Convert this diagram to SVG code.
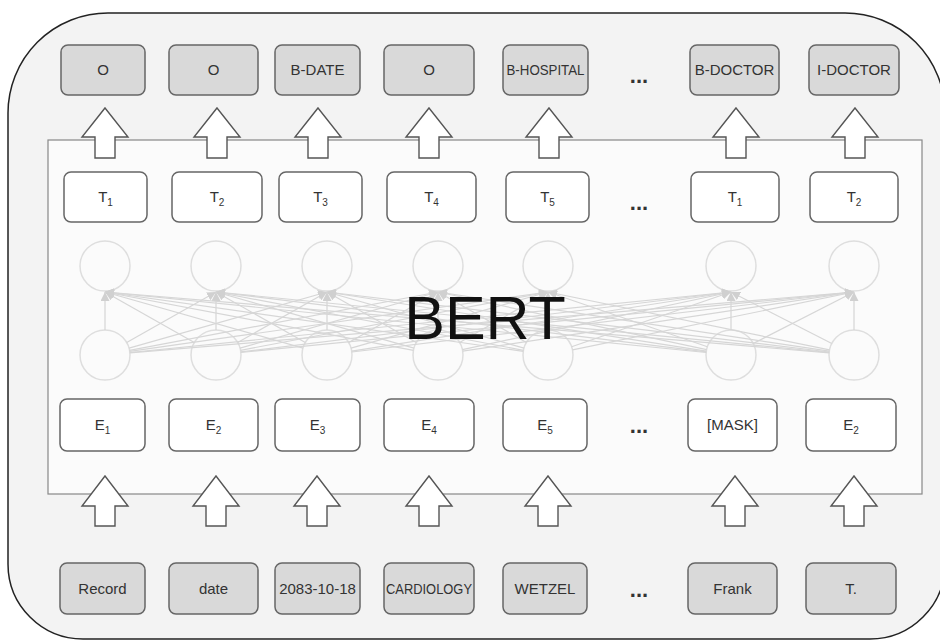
<svg xmlns="http://www.w3.org/2000/svg" width="940" height="642" viewBox="0 0 940 642">
<defs>
<style>
.lbl{font-family:"Liberation Sans",Arial,sans-serif;font-size:15px;fill:#333;text-anchor:middle}
.dots{font-family:"Liberation Sans",Arial,sans-serif;font-size:22px;font-weight:bold;fill:#333;text-anchor:middle}
.gbox{fill:#d9d9d9;stroke:#666;stroke-width:1.5}
.wbox{fill:#ffffff;stroke:#666;stroke-width:1.5}
.arr{fill:#ffffff;stroke:#555;stroke-width:1.4;stroke-linejoin:miter}
.neu{fill:none;stroke:#dedede;stroke-width:1.5}
.con line{stroke:#d6d6d6;stroke-width:1.2;marker-end:url(#ah)}
</style>
<marker id="ah" viewBox="0 0 10 10" refX="10" refY="5" markerWidth="9" markerHeight="9" markerUnits="userSpaceOnUse" orient="auto">
<path d="M0,0 L10,5 L0,10 Z" fill="#d0d0d0"/>
</marker>
</defs>
<rect x="0" y="0" width="940" height="642" fill="#ffffff"/>
<path id="outer" d="M108,13 H845 A100,100 0 0 1 945,113 V564 A75,75 0 0 1 870,639 H83 A75,75 0 0 1 8,564 V113 A100,100 0 0 1 108,13 Z" fill="#f3f3f3" stroke="#222" stroke-width="1.5"/>
<rect id="bert" x="48" y="140" width="874" height="354" fill="#fbfbfb" stroke="#888" stroke-width="1.2"/>

<g id="neurons">
<circle class="neu" cx="105" cy="266" r="25"/><circle class="neu" cx="216" cy="266" r="25"/><circle class="neu" cx="327" cy="266" r="25"/><circle class="neu" cx="438" cy="266" r="25"/><circle class="neu" cx="548" cy="266" r="25"/><circle class="neu" cx="731" cy="266" r="25"/><circle class="neu" cx="854" cy="266" r="25"/>
<circle class="neu" cx="105" cy="355" r="25"/><circle class="neu" cx="216" cy="355" r="25"/><circle class="neu" cx="327" cy="355" r="25"/><circle class="neu" cx="438" cy="355" r="25"/><circle class="neu" cx="548" cy="355" r="25"/><circle class="neu" cx="731" cy="355" r="25"/><circle class="neu" cx="854" cy="355" r="25"/>
</g>

<g id="connectors" class="con">
<line x1="105" y1="330" x2="105" y2="292"/>
<line x1="126.7" y1="342.5" x2="216" y2="292"/>
<line x1="129" y1="348.1" x2="327" y2="292"/>
<line x1="129.5" y1="350.3" x2="438" y2="292"/>
<line x1="129.7" y1="351.4" x2="548" y2="292"/>
<line x1="129.9" y1="352.5" x2="731" y2="292"/>
<line x1="129.9" y1="352.9" x2="854" y2="292"/>
<line x1="194.3" y1="342.5" x2="105" y2="292"/>
<line x1="216" y1="330" x2="216" y2="292"/>
<line x1="237.7" y1="342.5" x2="327" y2="292"/>
<line x1="240" y1="348.1" x2="438" y2="292"/>
<line x1="240.5" y1="350.3" x2="548" y2="292"/>
<line x1="240.8" y1="351.9" x2="731" y2="292"/>
<line x1="240.9" y1="352.5" x2="854" y2="292"/>
<line x1="303" y1="348.1" x2="105" y2="292"/>
<line x1="305.3" y1="342.5" x2="216" y2="292"/>
<line x1="327" y1="330" x2="327" y2="292"/>
<line x1="348.7" y1="342.5" x2="438" y2="292"/>
<line x1="351" y1="348.1" x2="548" y2="292"/>
<line x1="351.7" y1="351.1" x2="731" y2="292"/>
<line x1="351.8" y1="352" x2="854" y2="292"/>
<line x1="413.5" y1="350.3" x2="105" y2="292"/>
<line x1="414" y1="348.1" x2="216" y2="292"/>
<line x1="416.3" y1="342.5" x2="327" y2="292"/>
<line x1="438" y1="330" x2="438" y2="292"/>
<line x1="459.6" y1="342.4" x2="548" y2="292"/>
<line x1="462.4" y1="349.7" x2="731" y2="292"/>
<line x1="462.7" y1="351.2" x2="854" y2="292"/>
<line x1="523.3" y1="351.4" x2="105" y2="292"/>
<line x1="523.5" y1="350.3" x2="216" y2="292"/>
<line x1="524" y1="348.1" x2="327" y2="292"/>
<line x1="526.4" y1="342.4" x2="438" y2="292"/>
<line x1="548" y1="330" x2="548" y2="292"/>
<line x1="571.6" y1="346.7" x2="731" y2="292"/>
<line x1="572.5" y1="349.9" x2="854" y2="292"/>
<line x1="706.1" y1="352.5" x2="105" y2="292"/>
<line x1="706.2" y1="351.9" x2="216" y2="292"/>
<line x1="706.3" y1="351.1" x2="327" y2="292"/>
<line x1="706.6" y1="349.7" x2="438" y2="292"/>
<line x1="707.4" y1="346.7" x2="548" y2="292"/>
<line x1="731" y1="330" x2="731" y2="292"/>
<line x1="753.2" y1="343.5" x2="854" y2="292"/>
<line x1="829.1" y1="352.9" x2="105" y2="292"/>
<line x1="829.1" y1="352.5" x2="216" y2="292"/>
<line x1="829.2" y1="352" x2="327" y2="292"/>
<line x1="829.3" y1="351.2" x2="438" y2="292"/>
<line x1="829.5" y1="349.9" x2="548" y2="292"/>
<line x1="831.8" y1="343.5" x2="731" y2="292"/>
<line x1="854" y1="330" x2="854" y2="292"/>
</g>

<text x="485" y="339" font-family="Liberation Sans, Arial, sans-serif" font-size="61" fill="#111" text-anchor="middle">BERT</text>

<g id="out-row">
<g id="o1"><rect class="gbox" x="61" y="45" width="84" height="50" rx="7"/><text class="lbl" x="103" y="75">O</text></g>
<g id="o2"><rect class="gbox" x="169" y="45" width="89" height="50" rx="7"/><text class="lbl" x="213.5" y="75">O</text></g>
<g id="o3"><rect class="gbox" x="275" y="45" width="85" height="50" rx="7"/><text class="lbl" x="317.5" y="75">B-DATE</text></g>
<g id="o4"><rect class="gbox" x="384" y="45" width="90" height="50" rx="7"/><text class="lbl" x="429" y="75">O</text></g>
<g id="o5"><rect class="gbox" x="503" y="45" width="85" height="50" rx="7"/><text class="lbl" x="545.5" y="75" textLength="78" lengthAdjust="spacingAndGlyphs">B-HOSPITAL</text></g>
<g id="o-dots"><text class="dots" x="639" y="83">...</text></g>
<g id="o6"><rect class="gbox" x="690" y="45" width="89" height="50" rx="7"/><text class="lbl" x="734.5" y="75">B-DOCTOR</text></g>
<g id="o7"><rect class="gbox" x="809" y="45" width="90" height="50" rx="7"/><text class="lbl" x="854" y="75">I-DOCTOR</text></g>
</g>

<g id="t-row">
<g id="t1"><rect class="wbox" x="64" y="172" width="83" height="50" rx="7"/><text class="lbl" x="105.5" y="202">T<tspan font-size="10" dy="4">1</tspan></text></g>
<g id="t2"><rect class="wbox" x="172" y="172" width="90" height="50" rx="7"/><text class="lbl" x="217" y="202">T<tspan font-size="10" dy="4">2</tspan></text></g>
<g id="t3"><rect class="wbox" x="279" y="172" width="83" height="50" rx="7"/><text class="lbl" x="320.5" y="202">T<tspan font-size="10" dy="4">3</tspan></text></g>
<g id="t4"><rect class="wbox" x="387" y="172" width="89" height="50" rx="7"/><text class="lbl" x="431.5" y="202">T<tspan font-size="10" dy="4">4</tspan></text></g>
<g id="t5"><rect class="wbox" x="506" y="172" width="83" height="50" rx="7"/><text class="lbl" x="547.5" y="202">T<tspan font-size="10" dy="4">5</tspan></text></g>
<g id="t-dots"><text class="dots" x="639" y="210">...</text></g>
<g id="t6"><rect class="wbox" x="691" y="172" width="88" height="50" rx="7"/><text class="lbl" x="735" y="202">T<tspan font-size="10" dy="4">1</tspan></text></g>
<g id="t7"><rect class="wbox" x="810" y="172" width="88" height="50" rx="7"/><text class="lbl" x="854" y="202">T<tspan font-size="10" dy="4">2</tspan></text></g>
</g>

<g id="e-row">
<g id="e1"><rect class="wbox" x="60" y="399" width="85" height="52" rx="7"/><text class="lbl" x="102.5" y="430">E<tspan font-size="10" dy="4">1</tspan></text></g>
<g id="e2"><rect class="wbox" x="169" y="399" width="89" height="52" rx="7"/><text class="lbl" x="213.5" y="430">E<tspan font-size="10" dy="4">2</tspan></text></g>
<g id="e3"><rect class="wbox" x="275" y="399" width="85" height="52" rx="7"/><text class="lbl" x="317.5" y="430">E<tspan font-size="10" dy="4">3</tspan></text></g>
<g id="e4"><rect class="wbox" x="384" y="399" width="90" height="52" rx="7"/><text class="lbl" x="429" y="430">E<tspan font-size="10" dy="4">4</tspan></text></g>
<g id="e5"><rect class="wbox" x="503" y="399" width="84" height="52" rx="7"/><text class="lbl" x="545" y="430">E<tspan font-size="10" dy="4">5</tspan></text></g>
<g id="e-dots"><text class="dots" x="639" y="433">...</text></g>
<g id="e6"><rect class="wbox" x="688" y="399" width="89" height="52" rx="7"/><text class="lbl" x="732.5" y="430">[MASK]</text></g>
<g id="e7"><rect class="wbox" x="806" y="399" width="90" height="52" rx="7"/><text class="lbl" x="851" y="430">E<tspan font-size="10" dy="4">2</tspan></text></g>
</g>

<g id="in-row">
<g id="w1"><rect class="gbox" x="60" y="563" width="85" height="51" rx="7"/><text class="lbl" x="102.5" y="594">Record</text></g>
<g id="w2"><rect class="gbox" x="169" y="563" width="89" height="51" rx="7"/><text class="lbl" x="213.5" y="594">date</text></g>
<g id="w3"><rect class="gbox" x="275" y="563" width="85" height="51" rx="7"/><text class="lbl" x="317.5" y="594">2083-10-18</text></g>
<g id="w4"><rect class="gbox" x="384" y="563" width="90" height="51" rx="7"/><text class="lbl" x="429" y="594" textLength="86" lengthAdjust="spacingAndGlyphs">CARDIOLOGY</text></g>
<g id="w5"><rect class="gbox" x="503" y="563" width="84" height="51" rx="7"/><text class="lbl" x="545" y="594">WETZEL</text></g>
<g id="w-dots"><text class="dots" x="639" y="597">...</text></g>
<g id="w6"><rect class="gbox" x="688" y="563" width="89" height="51" rx="7"/><text class="lbl" x="732.5" y="594">Frank</text></g>
<g id="w7"><rect class="gbox" x="806" y="563" width="90" height="51" rx="7"/><text class="lbl" x="851" y="594">T.</text></g>
</g>

<g id="block-arrows">
<path class="arr" d="M105,108 L128,137 L115,137 L115,158 L95,158 L95,137 L82,137 Z"/>
<path class="arr" d="M217,108 L240,137 L227,137 L227,158 L207,158 L207,137 L194,137 Z"/>
<path class="arr" d="M318,108 L341,137 L328,137 L328,158 L308,158 L308,137 L295,137 Z"/>
<path class="arr" d="M429,108 L452,137 L439,137 L439,158 L419,158 L419,137 L406,137 Z"/>
<path class="arr" d="M549,108 L572,137 L559,137 L559,158 L539,158 L539,137 L526,137 Z"/>
<path class="arr" d="M736,108 L759,137 L746,137 L746,158 L726,158 L726,137 L713,137 Z"/>
<path class="arr" d="M855,108 L878,137 L865,137 L865,158 L845,158 L845,137 L832,137 Z"/>
<path class="arr" d="M105,476 L128,506 L115,506 L115,526 L95,526 L95,506 L82,506 Z"/>
<path class="arr" d="M216,476 L239,506 L226,506 L226,526 L206,526 L206,506 L193,506 Z"/>
<path class="arr" d="M317,476 L340,506 L327,506 L327,526 L307,526 L307,506 L294,506 Z"/>
<path class="arr" d="M429,476 L452,506 L439,506 L439,526 L419,526 L419,506 L406,506 Z"/>
<path class="arr" d="M548,476 L571,506 L558,506 L558,526 L538,526 L538,506 L525,506 Z"/>
<path class="arr" d="M735,476 L758,506 L745,506 L745,526 L725,526 L725,506 L712,506 Z"/>
<path class="arr" d="M854,476 L877,506 L864,506 L864,526 L844,526 L844,506 L831,506 Z"/>
</g>
</svg>
